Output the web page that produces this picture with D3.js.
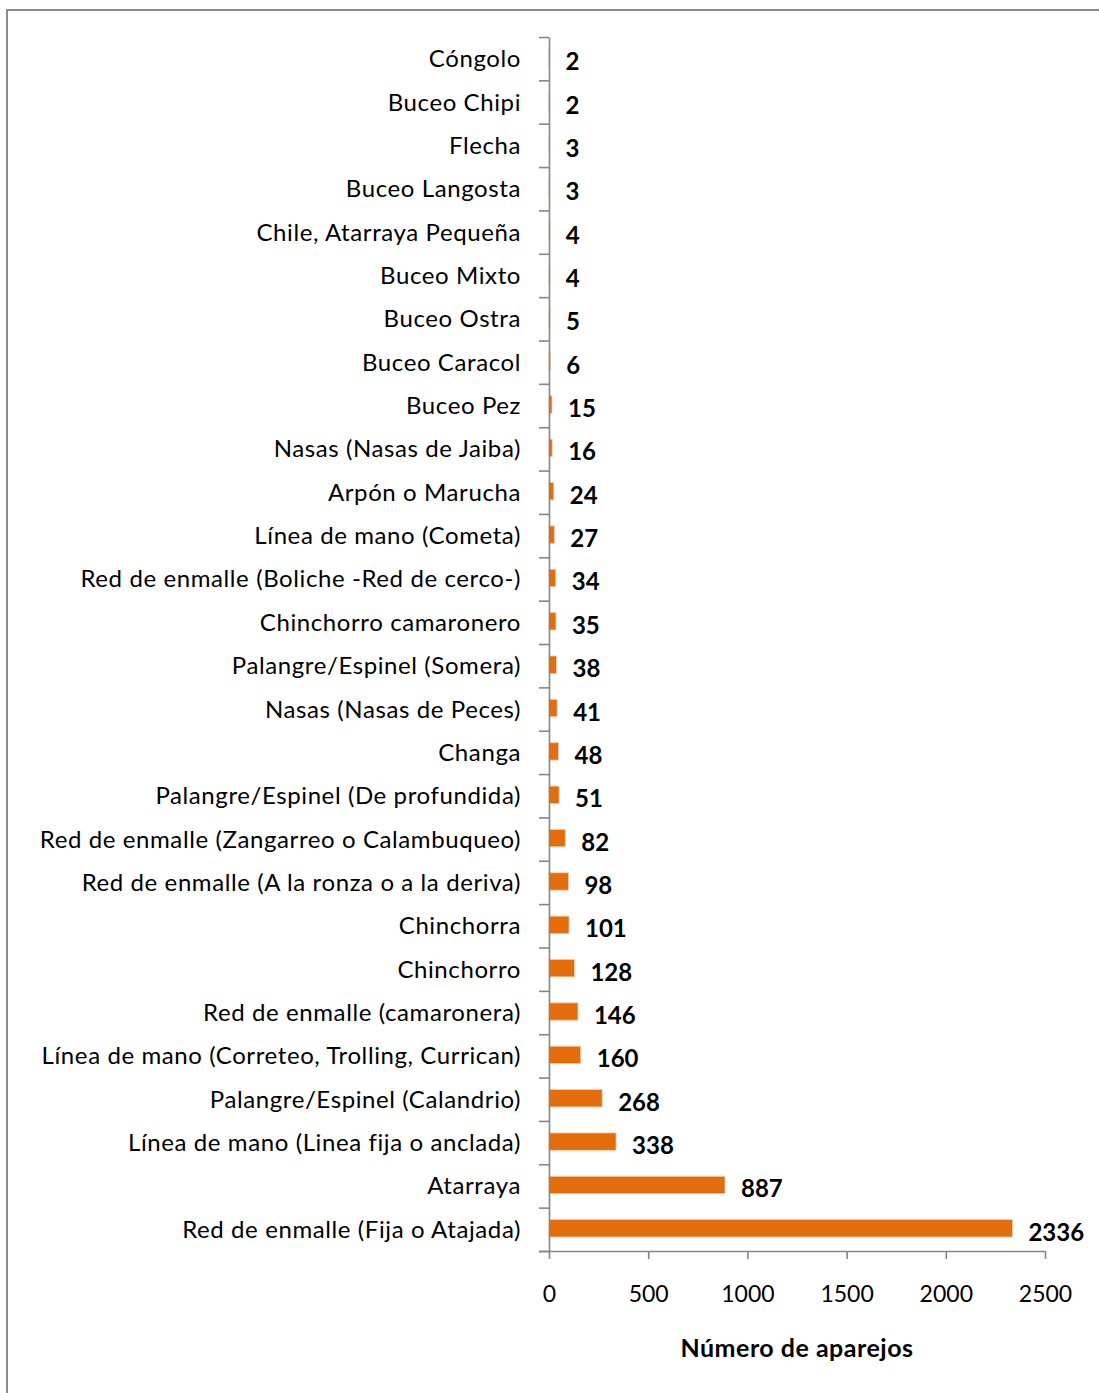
<!DOCTYPE html>
<html>
<head>
<meta charset="utf-8">
<script src="https://cdn.jsdelivr.net/npm/d3@7"></script>
<style>
  body { margin: 0; background: #fff; }
  svg text { font-family: Lato, "Open Sans", sans-serif; fill: #000; }
</style>
</head>
<body>
<div class="canvas"></div>
<script>
const categories = [
  'Cóngolo', 'Buceo Chipi', 'Flecha', 'Buceo Langosta', 'Chile, Atarraya Pequeña',
  'Buceo Mixto', 'Buceo Ostra', 'Buceo Caracol', 'Buceo Pez', 'Nasas (Nasas de Jaiba)',
  'Arpón o Marucha', 'Línea de mano (Cometa)', 'Red de enmalle (Boliche -Red de cerco-)',
  'Chinchorro camaronero', 'Palangre/Espinel (Somera)', 'Nasas (Nasas de Peces)',
  'Changa', 'Palangre/Espinel (De profundida)', 'Red de enmalle (Zangarreo o Calambuqueo)',
  'Red de enmalle (A la ronza o a la deriva)', 'Chinchorra', 'Chinchorro',
  'Red de enmalle (camaronera)', 'Línea de mano (Correteo, Trolling, Currican)',
  'Palangre/Espinel (Calandrio)', 'Línea de mano (Linea fija o anclada)', 'Atarraya',
  'Red de enmalle (Fija o Atajada)'
];
const values = [2, 2, 3, 3, 4, 4, 5, 6, 15, 16, 24, 27, 34, 35, 38, 41, 48, 51, 82, 98,
  101, 128, 146, 160, 268, 338, 887, 2336];
const xTicks = [0, 500, 1000, 1500, 2000, 2500];
const xTitle = 'Número de aparejos';

const data = categories.map((c, i) => ({name: c, value: values[i]}));

const width = 1099, height = 1393;
const svg = d3.select('.canvas')
  .append('svg')
    .attr('width', width)
    .attr('height', height);

// outer frame
svg.append('rect')
  .attr('x', 7).attr('y', 10)
  .attr('width', width).attr('height', height)
  .attr('fill', 'none')
  .attr('stroke', '#8c8c8c')
  .attr('stroke-width', 2);

const plot = {left: 549, right: 1045, top: 37, bottom: 1251};

const x = d3.scaleLinear()
  .domain([0, 2500])
  .range([plot.left, plot.right]);

const y = d3.scaleBand()
  .domain(categories)
  .range([plot.top, plot.bottom])
  .paddingInner(0.6)
  .paddingOuter(0.3);

// bars
svg.append('g')
  .selectAll('rect')
  .data(data)
  .enter()
  .append('rect')
    .attr('x', x(0))
    .attr('y', d => y(d.name) - 1)
    .attr('width', d => x(d.value) - x(0))
    .attr('height', y.bandwidth())
    .attr('fill', '#e46c0a')
    .attr('stroke', '#f7c9a3')
    .attr('stroke-width', 0.8);

// y axis with ticks between categories
const yIdx = d3.scaleLinear()
  .domain([0, categories.length])
  .range([plot.top, plot.bottom]);

const yAxisGroup = svg.append('g')
  .attr('transform', `translate(${plot.left},0)`)
  .call(d3.axisLeft(yIdx)
    .tickValues(d3.range(categories.length + 1))
    .tickFormat('')
    .tickSize(10)
    .tickSizeOuter(0));
yAxisGroup.selectAll('path, line').attr('stroke', '#868686').attr('stroke-width', 1.6);

// category labels
svg.append('g')
  .selectAll('text')
  .data(data)
  .enter()
  .append('text')
    .attr('x', 521)
    .attr('y', d => y(d.name) + y.bandwidth() / 2 - 1)
    .attr('text-anchor', 'end')
    .attr('dominant-baseline', 'central')
    .style('font-size', '24px')
    .style('letter-spacing', '0.6px')
    .text(d => d.name);

// value labels
svg.append('g')
  .selectAll('text')
  .data(data)
  .enter()
  .append('text')
    .attr('x', d => x(d.value) + 16)
    .attr('y', d => y(d.name) + y.bandwidth() / 2 + 2)
    .attr('dominant-baseline', 'central')
    .style('font-size', '24px')
    .style('font-weight', 'bold')
    .text(d => d.value);

// x axis
const xAxisGroup = svg.append('g')
  .attr('transform', `translate(0,${plot.bottom})`)
  .call(d3.axisBottom(x)
    .tickValues(xTicks)
    .tickFormat(d3.format('d'))
    .tickSize(8)
    .tickSizeOuter(0)
    .tickPadding(27));
xAxisGroup.selectAll('path, line').attr('stroke', '#868686').attr('stroke-width', 1.6);
xAxisGroup.select('.domain').attr('d', `M${plot.left - 10},0.5H${plot.right}`);
xAxisGroup.selectAll('text')
  .style('font-family', 'Lato, sans-serif')
  .style('font-size', '23px')
  .attr('fill', '#000');

svg.append('text')
  .attr('x', (plot.left + plot.right) / 2)
  .attr('y', 1347)
  .attr('text-anchor', 'middle')
  .attr('dominant-baseline', 'central')
  .style('font-size', '25px')
  .style('font-weight', 'bold')
  .style('letter-spacing', '0.5px')
  .text(xTitle);
</script>
</body>
</html>
